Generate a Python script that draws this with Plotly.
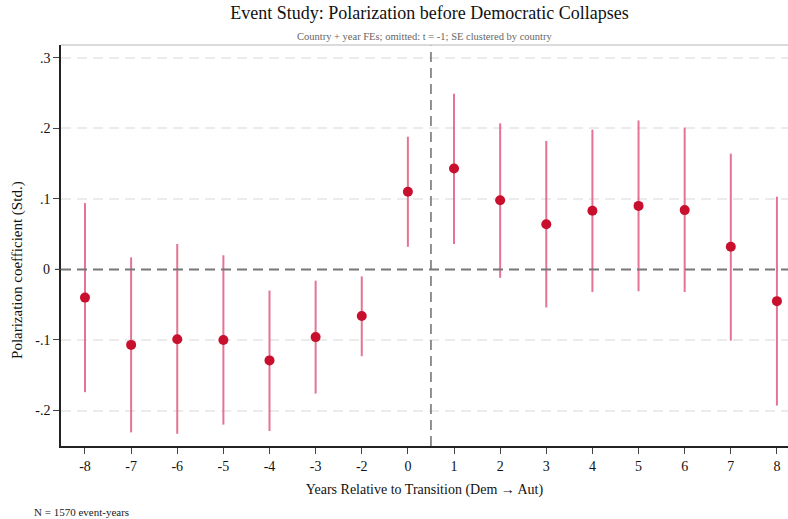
import plotly.graph_objects as go

tick_labels = ["-8", "-7", "-6", "-5", "-4", "-3", "-2", "0", "1", "2", "3", "4", "5", "6", "7", "8"]
coef = [-0.040, -0.107, -0.099, -0.100, -0.129, -0.096, -0.066, 0.110,
        0.143, 0.098, 0.064, 0.083, 0.090, 0.084, 0.032, -0.045]
ci_hi = [0.094, 0.017, 0.036, 0.020, -0.030, -0.016, -0.010, 0.188,
         0.249, 0.207, 0.182, 0.198, 0.211, 0.201, 0.164, 0.103]
ci_lo = [-0.174, -0.231, -0.233, -0.220, -0.229, -0.176, -0.123, 0.032,
         0.036, -0.012, -0.054, -0.032, -0.031, -0.032, -0.101, -0.193]
y_ticks = [-0.2, -0.1, 0.1, 0.2, 0.3]
y_tick_text = ["-.2", "-.1", ".1", ".2", ".3"]

x = list(range(len(tick_labels)))
up = [h - c for h, c in zip(ci_hi, coef)]
dn = [c - l for c, l in zip(coef, ci_lo)]

FONT = "Liberation Serif, Times New Roman, serif"

fig = go.Figure()
fig.add_trace(go.Scatter(
    x=x, y=coef, mode="markers",
    marker=dict(color="#C8102E", size=10, line=dict(width=0)),
    error_y=dict(type="data", symmetric=False, array=up, arrayminus=dn,
                 color="rgba(226,100,135,0.9)", thickness=2, width=0),
    showlegend=False,
))

# zero reference line
fig.add_shape(type="line", xref="paper", x0=0, x1=1, yref="y", y0=0, y1=0,
              line=dict(color="#777777", width=2, dash="10px,6px"), layer="above")
# transition line between 0 and 1
fig.add_shape(type="line", xref="x", x0=7.5, x1=7.5, yref="paper", y0=0, y1=1,
              line=dict(color="#777777", width=1.6, dash="10px,6px"), layer="above")
# top frame
fig.add_shape(type="line", xref="paper", x0=0, x1=1, yref="paper", y0=1, y1=1,
              line=dict(color="#cfcfcf", width=1.5))
# tick mark at zero
fig.add_shape(type="line", xref="paper", x0=-0.0083, x1=0, yref="y", y0=0, y1=0,
              line=dict(color="#444444", width=1.2))

fig.update_layout(
    width=788, height=519,
    margin=dict(l=61, r=0, t=45, b=73),
    paper_bgcolor="white", plot_bgcolor="white",
    font=dict(family=FONT, color="#111111"),
    title=dict(text="Event Study: Polarization before Democratic Collapses",
               x=0.545, xanchor="center", y=0.988, yanchor="top",
               font=dict(size=18, family=FONT, color="#111111")),
    xaxis=dict(range=[-0.52, 15.24], tickmode="array", tickvals=x, ticktext=tick_labels,
               showgrid=False, zeroline=False, showline=True, linecolor="#222222", linewidth=1.5,
               ticks="outside", ticklen=6, tickcolor="#444444", tickwidth=1.2,
               tickfont=dict(size=14, family=FONT),
               title=dict(text="Years Relative to Transition (Dem \u2192 Aut)",
                          font=dict(size=14, family=FONT), standoff=12)),
    yaxis=dict(range=[-0.2503, 0.318], tickmode="array", tickvals=y_ticks, ticktext=y_tick_text,
               showgrid=True, gridcolor="#ebebeb", gridwidth=1.5, griddash="10px,6px",
               zeroline=False, showline=True, linecolor="#222222", linewidth=1.5,
               ticks="outside", ticklen=6, tickcolor="#444444", tickwidth=1.2,
               tickfont=dict(size=14, family=FONT)),
    annotations=[
        dict(text="Country + year FEs; omitted: t = -1; SE clustered by country",
             xref="paper", yref="paper", x=0.5, y=1.0, xanchor="center", yanchor="bottom",
             yshift=1, showarrow=False, font=dict(size=10.5, family=FONT, color="#666666")),
        dict(text="Polarization coefficient (Std.)", xref="paper", yref="paper",
             x=0, y=0.439, xanchor="center", yanchor="middle", xshift=-43, textangle=-90,
             showarrow=False, font=dict(size=15, family=FONT, color="#111111")),
        dict(text="N = 1570 event-years", xref="paper", yref="paper", x=0, y=0,
             xanchor="left", yanchor="top", yshift=-58, xshift=-29, showarrow=False,
             font=dict(size=11, family=FONT, color="#222222")),
        dict(text="0", xref="paper", yref="y", x=0, y=0, xanchor="right", yanchor="middle",
             xshift=-9, showarrow=False, font=dict(size=14, family=FONT, color="#111111")),
    ],
)

fig.write_html("out.html")
